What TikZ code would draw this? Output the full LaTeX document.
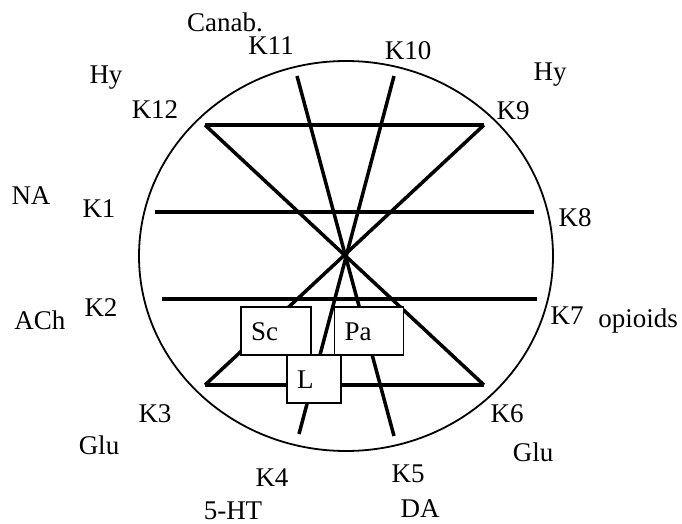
\documentclass[tikz,border=0pt]{standalone}
\usepackage{fontspec}
\setmainfont{Liberation Serif}
\usetikzlibrary{positioning}

\begin{document}
\begin{tikzpicture}[x=1pt, y=-1pt,
  lbl/.style={font=\fontsize{27}{31}\selectfont, inner sep=0pt, text height=18pt, text depth=0pt},
  link/.style={line width=3.5pt},
  box/.style={draw, fill=white, line width=1.6pt, inner sep=10pt, align=left,
    minimum height=48pt, text height=18pt, text depth=0pt, font=\fontsize{27}{31}\selectfont}]
  \useasboundingbox (0,0) rectangle (682,524);

  % outer ring
  \draw[line width=1.8pt] (346,256) ellipse [x radius=207, y radius=195];

  % ends of the bars
  \coordinate (k12) at (205,125);
  \coordinate (k9)  at (484,125);
  \coordinate (k3)  at (205,385);
  \coordinate (k6)  at (484,385);
  \coordinate (k1)  at (155,212);
  \coordinate (k8)  at (534,212);
  \coordinate (k2)  at (162,299);
  \coordinate (k7)  at (537,299);
  \coordinate (k11) at (297,76);
  \coordinate (k5)  at (394,436);
  \coordinate (k10) at (394,76);
  \coordinate (k4)  at (299,434);

  \draw[link] (k12) -- (k9);
  \draw[link] (k3) -- (k6);
  \draw[link] (k12) -- (k6);
  \draw[link] (k9) -- (k3);
  \draw[link] (k1) -- (k8);
  \draw[link] (k2) -- (k7);
  \draw[link] (k11) -- (k5);
  \draw[link] (k10) -- (k4);

  % boxes on top
  \node[box, text width=50pt] (sc) at (276,331) {Sc};
  \node[box, text width=49pt, right=22pt of sc] (pa) {Pa};
  \node[box, text width=34pt] (l) at (314,379) {L};

  % labels round the ring
  \node[lbl] (canab) at (225,23) {Canab.};
  \node[lbl] (lk11) at (271,46) {K11};
  \node[lbl] (lk10) at (408,51) {K10};
  \node[lbl] (hyl) at (106,75) {Hy};
  \node[lbl] (lk12) at (155,109) {K12};
  \node[lbl] (hyr) at (550,72) {Hy};
  \node[lbl] (lk9) at (513,111) {K9};
  \node[lbl] (na) at (31,195) {NA};
  \node[lbl] (lk1) at (99,208) {K1};
  \node[lbl] (lk8) at (575,217) {K8};
  \node[lbl] (lk2) at (101,307) {K2};
  \node[lbl] (ach) at (40,320) {ACh};
  \node[lbl] (lk7) at (567,315) {K7};
  \node[lbl] (opi) at (638,318) {opioids};
  \node[lbl] (lk3) at (155,413) {K3};
  \node[lbl] (glul) at (99,445) {Glu};
  \node[lbl] (lk6) at (507,413) {K6};
  \node[lbl] (glur) at (533,452) {Glu};
  \node[lbl] (lk4) at (272,477) {K4};
  \node[lbl] (ht) at (233,510) {5-HT};
  \node[lbl] (lk5) at (408,473) {K5};
  \node[lbl] (da) at (420,508) {DA};
\end{tikzpicture}
\end{document}
